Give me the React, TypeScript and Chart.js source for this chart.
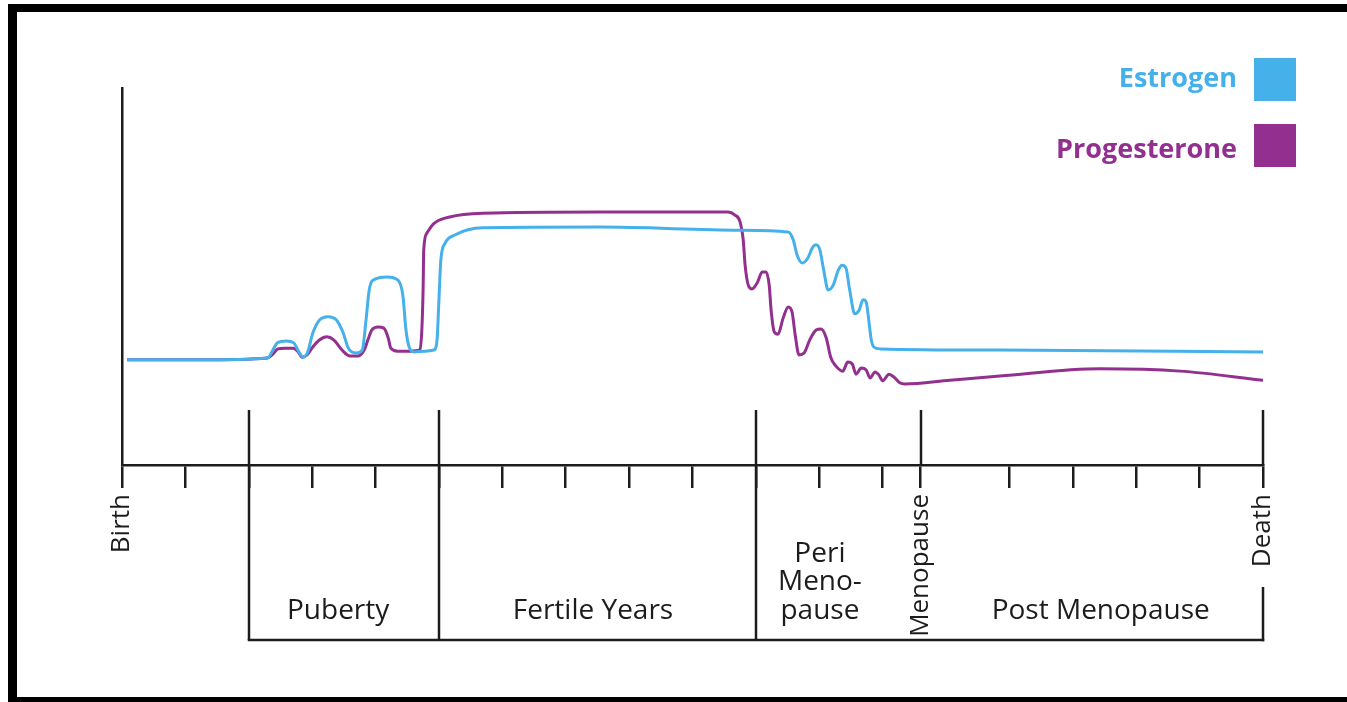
import React, { useEffect, useRef } from 'react';
import { Chart, registerables } from 'chart.js';

Chart.register(...registerables);

// ---- data (x: life-stage axis units 0..18, y: relative hormone level 0..100) ----
const estrogenAge = [
  0.08, 1.23, 2.30, 2.38, 2.45, 2.59, 2.71, 2.79, 2.86, 2.93, 3.01, 3.12, 3.25, 3.38, 3.49, 3.57,
  3.69, 3.79, 3.85, 3.90, 3.99, 4.18, 4.35, 4.43, 4.48, 4.53, 4.61, 4.78, 4.92, 4.97, 5.00, 5.03,
  5.10, 5.25, 5.69, 7.54, 9.75, 10.51, 10.59, 10.65, 10.73, 10.82, 10.89, 10.95, 11.01, 11.07,
  11.14, 11.22, 11.30, 11.36, 11.42, 11.48, 11.56, 11.63, 11.69, 11.74, 11.78, 11.82, 11.86,
  11.96, 13.85, 18.00,
];
const estrogenLevel = [
  27.9, 27.9, 28.4, 30.5, 32.4, 32.9, 32.4, 30.0, 28.6, 30.0, 35.0, 38.5, 39.3, 38.5, 35.0, 31.0,
  29.7, 30.5, 38.5, 46.4, 49.3, 49.9, 49.1, 45.1, 35.8, 31.3, 30.0, 30.2, 30.5, 33.2, 43.8, 54.4,
  58.9, 61.0, 62.9, 63.1, 62.3, 61.8, 59.7, 55.7, 53.6, 54.9, 57.6, 58.4, 57.0, 51.7,
  46.4, 47.7, 51.7, 53.0, 52.3, 46.4, 40.1, 41.1, 43.8, 43.2, 38.5, 33.2, 31.3,
  30.8, 30.5, 30.0,
];
const progesteroneAge = [
  0.08, 1.23, 2.30, 2.38, 2.46, 2.57, 2.70, 2.78, 2.84, 2.92, 3.01, 3.12, 3.23, 3.34, 3.47, 3.60,
  3.72, 3.82, 3.88, 3.94, 4.04, 4.13, 4.20, 4.24, 4.35, 4.54, 4.70, 4.73, 4.75, 4.76, 4.81, 4.91,
  5.17, 5.69, 7.54, 9.56, 9.67, 9.75, 9.80, 9.83, 9.88, 9.94, 10.02, 10.10, 10.16, 10.21, 10.24,
  10.29, 10.35, 10.43, 10.51, 10.57, 10.62, 10.68, 10.76, 10.85, 10.95, 11.03, 11.11, 11.18,
  11.26, 11.37, 11.45, 11.52, 11.58, 11.66, 11.74, 11.80, 11.88, 11.94, 12.00, 12.10, 12.18,
  12.27, 12.35, 13.06, 13.85, 15.43, 16.69, 18.00,
];
const progesteroneLevel = [
  27.9, 27.9, 28.4, 29.4, 30.8, 31.0, 31.0, 30.0, 28.6, 29.2, 31.3, 33.2, 34.0, 33.2, 30.5, 28.9,
  28.9, 30.5, 33.2, 35.8, 36.6, 36.3, 33.7, 31.0, 30.2, 30.2, 30.5, 35.8, 46.4, 57.0, 61.5, 63.9,
  65.8, 66.8, 67.1, 67.1, 66.3, 64.5, 59.7, 53.0, 47.7, 46.7, 48.3, 51.2, 51.2, 47.7, 41.1,
  35.3, 34.7, 39.0, 41.9, 40.6, 34.5, 29.2, 29.7, 33.2, 35.8, 36.1, 33.7, 28.6,
  26.3, 24.9, 27.3, 26.8, 24.1, 25.7, 25.2, 23.1, 24.7, 23.9, 22.3, 24.1, 23.3,
  21.8, 21.5, 22.5, 23.6, 25.5, 24.9, 22.5,
];

const seriesNames = ['Estrogen', 'Progesterone'];
const seriesColors = ['#45b0ea', '#922f8f'];

const axisTicks = [0, 1, 2, 3, 4, 5, 6, 7, 8, 9, 10, 11, 12, 12.6, 14, 15, 16, 17, 18];
const milestoneValues = [0, 12.6, 18];
const milestoneNames = ['Birth', 'Menopause', 'Death'];
const phaseBoundaries = [2, 5, 10, 12.6, 18];
const phaseNames = [['Puberty'], ['Fertile Years'], ['Peri', 'Meno-', 'pause'], ['Post Menopause']];
const phaseCenters = [3.41, 7.43, 11.01, 15.44];

const INK = '#1c1c1c';

const toPoints = (xs: number[], ys: number[]) => xs.map((x, i) => ({ x, y: ys[i] }));

const diagramPlugin = {
  id: 'diagram',
  afterDraw(chart: any) {
    const { ctx, chartArea } = chart;
    const x = chart.scales.x;
    const axisY = chartArea.bottom;
    const topY = axisY - 55;
    const boxY = axisY + 175;
    ctx.save();
    ctx.strokeStyle = INK;
    ctx.lineWidth = 2.5;
    ctx.lineCap = 'butt';
    // phase boundary lines
    phaseBoundaries.forEach((v, i) => {
      const px = Math.round(x.getPixelForValue(v));
      const isMilestone = milestoneValues.includes(v);
      ctx.beginPath();
      if (isMilestone) {
        ctx.moveTo(px, topY);
        ctx.lineTo(px, axisY);
        if (i === phaseBoundaries.length - 1) {
          ctx.moveTo(px, boxY - 53);
          ctx.lineTo(px, boxY + 1.25);
        }
      } else {
        ctx.moveTo(px, topY);
        ctx.lineTo(px, boxY);
      }
      ctx.stroke();
    });
    // bottom line of the phase boxes
    ctx.beginPath();
    ctx.moveTo(Math.round(x.getPixelForValue(phaseBoundaries[0])) - 1.25, boxY);
    ctx.lineTo(Math.round(x.getPixelForValue(phaseBoundaries[phaseBoundaries.length - 1])) + 1.25, boxY);
    ctx.stroke();

    // phase labels
    ctx.fillStyle = INK;
    ctx.font = '28px "Open Sans"';
    ctx.textAlign = 'center';
    ctx.textBaseline = 'middle';
    phaseNames.forEach((lines, i) => {
      const cx = x.getPixelForValue(phaseCenters[i]);
      lines.forEach((line, j) => {
        const cy = boxY - 29 - (lines.length - 1 - j) * 28.5;
        ctx.fillText(line, cx, cy);
      });
    });

    // legend (text then swatch)
    ctx.font = 'bold 27px "Open Sans"';
    ctx.textAlign = 'right';
    chart.data.datasets.forEach((ds: any, i: number) => {
      const boxCy = 79 + i * 66;
      const textCy = 79 + i * 71;
      ctx.fillStyle = ds.borderColor;
      ctx.fillText(ds.label, 1237, textCy);
      ctx.fillRect(1254, boxCy - 21, 42, 43);
    });

    // image frame
    ctx.fillStyle = '#000';
    ctx.fillRect(8, 4, 1339, 8);
    ctx.fillRect(8, 4, 9, 698);
    ctx.fillRect(8, 697, 1339, 5);
    ctx.restore();
  },
};

export default function App() {
  const ref = useRef<HTMLCanvasElement | null>(null);
  useEffect(() => {
    if (!ref.current) return;
    const chart = new Chart(ref.current, {
      type: 'line',
      data: {
        datasets: [
          {
            label: seriesNames[0],
            data: toPoints(estrogenAge, estrogenLevel),
            borderColor: seriesColors[0],
            backgroundColor: seriesColors[0],
          },
          {
            label: seriesNames[1],
            data: toPoints(progesteroneAge, progesteroneLevel),
            borderColor: seriesColors[1],
            backgroundColor: seriesColors[1],
          },
        ],
      },
      options: {
        responsive: false,
        animation: false,
        layout: { padding: { left: 122, right: 84, top: 88, bottom: 0 } },
        elements: {
          point: { radius: 0 },
          line: { borderWidth: 3, cubicInterpolationMode: 'monotone', tension: 0.4, fill: false },
        },
        plugins: { legend: { display: false }, tooltip: { enabled: false } },
        scales: {
          x: {
            type: 'linear',
            min: 0,
            max: 18,
            afterBuildTicks: (s: any) => {
              s.ticks = axisTicks.map((v) => ({ value: v }));
            },
            afterFit: (s: any) => {
              s.height = 237;
            },
            grid: { drawOnChartArea: false, drawTicks: true, tickLength: 23, color: INK, lineWidth: 2.5 },
            border: { display: true, color: INK, width: 2.5 },
            ticks: {
              autoSkip: false,
              minRotation: 90,
              maxRotation: 90,
              padding: 6,
              color: INK,
              font: { family: 'Open Sans', size: 26 },
              callback: (v: any) => {
                const k = milestoneValues.indexOf(Number(v));
                return k >= 0 ? milestoneNames[k] : '';
              },
            },
          },
          y: {
            min: 0,
            max: 100,
            afterFit: (s: any) => {
              s.width = 0;
            },
            grid: { display: false },
            border: { display: true, color: INK, width: 2.5 },
            ticks: { display: false },
          },
        },
      } as any,
      plugins: [diagramPlugin],
    });
    return () => chart.destroy();
  }, []);
  return (
    <div style={{ position: 'fixed', left: 0, top: 0, width: 1347, height: 702, background: '#fff' }}>
      <canvas ref={ref} width={1347} height={702} style={{ display: 'block' }} />
    </div>
  );
}
